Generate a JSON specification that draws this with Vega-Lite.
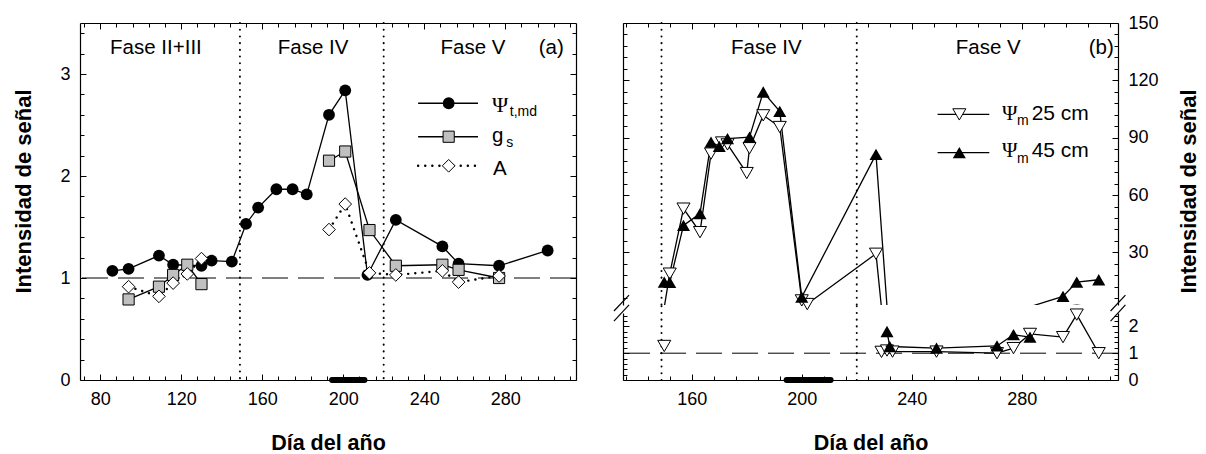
{
  "$schema": "https://vega.github.io/schema/vega-lite/v6.json",
  "padding": {"left": 12, "top": 14, "right": 0, "bottom": 0},
  "background": "white",
  "config": {
    "font": "Liberation Sans",
    "view": {"stroke": null},
    "axis": {
      "domainColor": "#000", "domainWidth": 1.2, "tickColor": "#000", "tickWidth": 1,
      "labelFont": "Liberation Sans", "labelFontSize": 18, "labelColor": "#000",
      "titleFont": "Liberation Sans", "titleFontSize": 22, "titleFontWeight": "bold", "titleColor": "#000",
      "grid": false, "labelOverlap": false, "labelFlush": false, "labelBound": false
    }
  },
  "datasets": {
    "a": [
      {"s": "psi", "doy": 86, "v": 1.07}, {"s": "psi", "doy": 94, "v": 1.09}, {"s": "psi", "doy": 109, "v": 1.22},
      {"s": "psi", "doy": 116, "v": 1.13}, {"s": "psi", "doy": 130, "v": 1.12}, {"s": "psi", "doy": 135, "v": 1.17},
      {"s": "psi", "doy": 145, "v": 1.16}, {"s": "psi", "doy": 152, "v": 1.53}, {"s": "psi", "doy": 158, "v": 1.69},
      {"s": "psi", "doy": 167, "v": 1.87}, {"s": "psi", "doy": 175, "v": 1.87}, {"s": "psi", "doy": 182, "v": 1.82},
      {"s": "psi", "doy": 193, "v": 2.6}, {"s": "psi", "doy": 201, "v": 2.84}, {"s": "psi", "doy": 212, "v": 1.03},
      {"s": "psi", "doy": 226, "v": 1.57}, {"s": "psi", "doy": 249, "v": 1.31}, {"s": "psi", "doy": 257, "v": 1.14},
      {"s": "psi", "doy": 277, "v": 1.12}, {"s": "psi", "doy": 301, "v": 1.27},
      {"s": "gs", "t": 1, "doy": 94, "v": 0.79}, {"s": "gs", "t": 1, "doy": 109, "v": 0.915}, {"s": "gs", "t": 1, "doy": 116, "v": 1.03},
      {"s": "gs", "t": 1, "doy": 123, "v": 1.13}, {"s": "gs", "t": 1, "doy": 130, "v": 0.94},
      {"s": "gs", "t": 2, "doy": 193, "v": 2.15}, {"s": "gs", "t": 2, "doy": 201, "v": 2.24}, {"s": "gs", "t": 2, "doy": 213, "v": 1.47},
      {"s": "gs", "t": 2, "doy": 226, "v": 1.12}, {"s": "gs", "t": 2, "doy": 249, "v": 1.13}, {"s": "gs", "t": 2, "doy": 257, "v": 1.08},
      {"s": "gs", "t": 2, "doy": 277, "v": 1.0},
      {"s": "A", "t": 1, "doy": 94, "v": 0.915}, {"s": "A", "t": 1, "doy": 109, "v": 0.82}, {"s": "A", "t": 1, "doy": 116, "v": 0.95},
      {"s": "A", "t": 1, "doy": 123, "v": 1.04}, {"s": "A", "t": 1, "doy": 130, "v": 1.19},
      {"s": "A", "t": 2, "doy": 193, "v": 1.475}, {"s": "A", "t": 2, "doy": 201, "v": 1.725}, {"s": "A", "t": 2, "doy": 213, "v": 1.05},
      {"s": "A", "t": 2, "doy": 226, "v": 1.03}, {"s": "A", "t": 2, "doy": 249, "v": 1.07}, {"s": "A", "t": 2, "doy": 257, "v": 0.96},
      {"s": "A", "t": 2, "doy": 277, "v": 1.02}
    ],
    "b": [
      {"s": "25", "doy": 150, "v": 1.27}, {"s": "25", "doy": 152, "v": 18.9}, {"s": "25", "doy": 157, "v": 52.9},
      {"s": "25", "doy": 163, "v": 40.6}, {"s": "25", "doy": 167, "v": 81.7}, {"s": "25", "doy": 171, "v": 87.5},
      {"s": "25", "doy": 173, "v": 86.5}, {"s": "25", "doy": 180, "v": 71.5}, {"s": "25", "doy": 181, "v": 84.5},
      {"s": "25", "doy": 186, "v": 101.7}, {"s": "25", "doy": 192, "v": 95.6}, {"s": "25", "doy": 200, "v": 4.9},
      {"s": "25", "doy": 202, "v": 3.0}, {"s": "25", "doy": 227, "v": 29.3}, {"s": "25", "doy": 229, "v": 1.05},
      {"s": "25", "doy": 231, "v": 1.1}, {"s": "25", "doy": 233, "v": 1.06}, {"s": "25", "doy": 249, "v": 1.06},
      {"s": "25", "doy": 271, "v": 1.0}, {"s": "25", "doy": 277, "v": 1.19}, {"s": "25", "doy": 283, "v": 1.72},
      {"s": "25", "doy": 295, "v": 1.6}, {"s": "25", "doy": 300, "v": 2.44}, {"s": "25", "doy": 308, "v": 1.0},
      {"s": "45", "doy": 150, "v": 14.5}, {"s": "45", "doy": 152, "v": 14.3}, {"s": "45", "doy": 157, "v": 44.1},
      {"s": "45", "doy": 163, "v": 50.3}, {"s": "45", "doy": 167, "v": 87.7}, {"s": "45", "doy": 170, "v": 85.5},
      {"s": "45", "doy": 173, "v": 89.5}, {"s": "45", "doy": 181, "v": 90.3}, {"s": "45", "doy": 186, "v": 113.9},
      {"s": "45", "doy": 192, "v": 103.8}, {"s": "45", "doy": 200, "v": 6.6}, {"s": "45", "doy": 227, "v": 81.3},
      {"s": "45", "doy": 231, "v": 1.81}, {"s": "45", "doy": 232, "v": 1.25}, {"s": "45", "doy": 249, "v": 1.19},
      {"s": "45", "doy": 271, "v": 1.27}, {"s": "45", "doy": 277, "v": 1.69}, {"s": "45", "doy": 283, "v": 1.6},
      {"s": "45", "doy": 295, "v": 7.0}, {"s": "45", "doy": 300, "v": 14.5}, {"s": "45", "doy": 308, "v": 15.7}
    ],
    "vl": [{"x": 149}, {"x": 220}],
    "bar": [{"start": 194.5, "end": 210.5, "y": 0}],
    "a_leg": [
      {"s": "psi", "x1": 237, "x2": 266.6, "xm": 252.1, "y": 2.713},
      {"s": "gs", "x1": 237, "x2": 266.6, "xm": 252.1, "y": 2.385},
      {"s": "A", "x1": 237, "x2": 266.6, "xm": 252.1, "y": 2.1}
    ],
    "a_txt": [
      {"x": 107.5, "y": 3.251, "t": "Fase II+III"}, {"x": 185.1, "y": 3.251, "t": "Fase IV"},
      {"x": 264.1, "y": 3.251, "t": "Fase V"}, {"x": 302.8, "y": 3.251, "t": "(a)"}
    ],
    "a_legtxt": [{"x": 273.5, "y": 2.396, "t": "g"}, {"x": 274, "y": 2.073, "t": "A"}],
    "a_psi": [{"x": 273.5, "y": 2.7, "t": "Ψ"}],
    "a_sub": [{"x": 282.3, "y": 2.63, "t": "t,md"}, {"x": 280.6, "y": 2.326, "t": "s"}],
    "b_leg": [
      {"s": "25", "x1": 249.4, "x2": 268.2, "xm": 257.3, "y": 102.2},
      {"s": "45", "x1": 249.4, "x2": 268.2, "xm": 257.3, "y": 82.2}
    ],
    "b_txt": [{"x": 187.1, "y": 136.7, "t": "Fase IV"}, {"x": 267.8, "y": 136.7, "t": "Fase V"}, {"x": 308.9, "y": 136.7, "t": "(b)"}],
    "b_psi": [{"x": 272.8, "y": 102.4, "t": "Ψ"}, {"x": 272.8, "y": 82.8, "t": "Ψ"}],
    "b_sub": [{"x": 278.3, "y": 98.5, "t": "m"}, {"x": 278.3, "y": 78.8, "t": "m"}],
    "b_legtxt": [{"x": 283.6, "y": 102.4, "t": "25 cm"}, {"x": 283.6, "y": 82.8, "t": "45 cm"}],
    "b_break": [
      {"x1": 131.7, "x2": 137.2, "y1": 2.575, "y2": 3.17}, {"x1": 131.7, "x2": 137.2, "y1": 2.2, "y2": 2.8},
      {"x1": 312.3, "x2": 317.7, "y1": 2.575, "y2": 3.17}, {"x1": 312.3, "x2": 317.7, "y1": 2.2, "y2": 2.8}
    ]
  },
  "spacing": 36,
  "hconcat": [
    {
      "width": 496, "height": 357,
      "resolve": {"axis": {"x": "independent", "y": "independent"}},
      "layer": [
        {"data": {"values": [{"y": 1}]},
         "mark": {"type": "rule", "color": "#000", "strokeWidth": 1, "strokeDash": [26, 10]},
         "encoding": {"y": {"field": "y", "type": "quantitative", "scale": {"domain": [0, 3.5], "nice": false, "zero": false},
           "axis": {"orient": "left", "values": [0, 1, 2, 3], "format": "d", "tickSize": -6,
             "labelPadding": 16, "title": "Intensidad de señal", "titlePadding": 24, "titleY": 168}}}},
        {"data": {"name": "vl"},
         "mark": {"type": "rule", "color": "#000", "strokeWidth": 2, "strokeDash": [0.1, 6.6], "strokeCap": "round"},
         "encoding": {"x": {"field": "x", "type": "quantitative", "scale": {"domain": [70, 315], "nice": false, "zero": false},
           "axis": {"orient": "bottom", "values": [72, 80, 88, 96, 104, 112, 120, 128, 136, 144, 152, 160, 168, 176, 184, 192, 200, 208, 216, 224, 232, 240, 248, 256, 264, 272, 280, 288, 296, 304, 312], "format": "d",
             "tickSize": {"condition": {"test": "datum.value % 40 === 0", "value": -6}, "value": -4},
             "labelExpr": "datum.value % 40 === 0 ? datum.label : ''", "labelOverlap": false,
             "labelPadding": 16, "title": "Día del año", "titleFontSize": 21.5, "titlePadding": 22}}}},
        {"data": {"name": "bar"},
         "mark": {"type": "rule", "color": "#000", "strokeWidth": 6, "strokeCap": "round"},
         "encoding": {
           "x": {"field": "start", "type": "quantitative", "scale": {"domain": [70, 315], "nice": false, "zero": false},
             "axis": {"orient": "top", "values": [72, 80, 88, 96, 104, 112, 120, 128, 136, 144, 152, 160, 168, 176, 184, 192, 200, 208, 216, 224, 232, 240, 248, 256, 264, 272, 280, 288, 296, 304, 312],
               "tickSize": {"condition": {"test": "datum.value % 40 === 0", "value": -6}, "value": -4}, "labels": false, "title": null}},
           "x2": {"field": "end"},
           "y": {"field": "y", "type": "quantitative", "scale": {"domain": [0, 3.5], "nice": false, "zero": false},
             "axis": {"orient": "right", "values": [0, 1, 2, 3], "tickSize": -6, "labels": false, "title": null}}}},
        {"data": {"name": "a"}, "transform": [{"filter": "datum.s === 'psi'"}],
         "mark": {"type": "line", "color": "#000", "strokeWidth": 1.3},
         "encoding": {"x": {"field": "doy", "type": "quantitative", "axis": null},
           "y": {"field": "v", "type": "quantitative", "axis": {"orient": "left", "values": [0.2, 0.4, 0.6, 0.8, 1.2, 1.4, 1.6, 1.8, 2.2, 2.4, 2.6, 2.8, 3.2, 3.4], "tickSize": -4, "labels": false, "domain": false, "title": null}}}},
        {"data": {"name": "a"}, "transform": [{"filter": "datum.s === 'gs'"}],
         "mark": {"type": "line", "color": "#000", "strokeWidth": 1.3},
         "encoding": {"x": {"field": "doy", "type": "quantitative", "axis": null},
           "y": {"field": "v", "type": "quantitative", "axis": {"orient": "right", "values": [0.2, 0.4, 0.6, 0.8, 1.2, 1.4, 1.6, 1.8, 2.2, 2.4, 2.6, 2.8, 3.2, 3.4], "tickSize": -4, "labels": false, "domain": false, "title": null}}, "detail": {"field": "t"}}},
        {"data": {"name": "a"}, "transform": [{"filter": "datum.s === 'A'"}],
         "mark": {"type": "line", "color": "#000", "strokeWidth": 2.4, "strokeDash": [0.1, 7], "strokeCap": "round"},
         "encoding": {"x": {"field": "doy", "type": "quantitative", "axis": null}, "y": {"field": "v", "type": "quantitative", "axis": null}, "detail": {"field": "t"}}},
        {"data": {"name": "a"}, "transform": [{"filter": "datum.s === 'psi'"}],
         "mark": {"type": "point", "shape": "circle", "filled": true, "color": "#000", "opacity": 1, "size": 140},
         "encoding": {"x": {"field": "doy", "type": "quantitative", "axis": null}, "y": {"field": "v", "type": "quantitative", "axis": null}}},
        {"data": {"name": "a"}, "transform": [{"filter": "datum.s === 'gs'"}],
         "mark": {"type": "point", "shape": "square", "filled": true, "fill": "#c0c0c0", "stroke": "#000", "strokeWidth": 1, "opacity": 1, "size": 125},
         "encoding": {"x": {"field": "doy", "type": "quantitative", "axis": null}, "y": {"field": "v", "type": "quantitative", "axis": null}}},
        {"data": {"name": "a"}, "transform": [{"filter": "datum.s === 'A'"}],
         "mark": {"type": "point", "shape": "diamond", "filled": true, "fill": "#fff", "stroke": "#000", "strokeWidth": 1, "opacity": 1, "size": 160},
         "encoding": {"x": {"field": "doy", "type": "quantitative", "axis": null}, "y": {"field": "v", "type": "quantitative", "axis": null}}},
        {"data": {"name": "a_leg"}, "transform": [{"filter": "datum.s !== 'A'"}],
         "mark": {"type": "rule", "color": "#000", "strokeWidth": 1.3},
         "encoding": {"x": {"field": "x1", "type": "quantitative", "axis": null}, "x2": {"field": "x2"}, "y": {"field": "y", "type": "quantitative", "axis": null}}},
        {"data": {"name": "a_leg"}, "transform": [{"filter": "datum.s === 'A'"}],
         "mark": {"type": "rule", "color": "#000", "strokeWidth": 2.4, "strokeDash": [0.1, 7], "strokeCap": "round"},
         "encoding": {"x": {"field": "x1", "type": "quantitative", "axis": null}, "x2": {"field": "x2"}, "y": {"field": "y", "type": "quantitative", "axis": null}}},
        {"data": {"name": "a_leg"}, "transform": [{"filter": "datum.s === 'psi'"}],
         "mark": {"type": "point", "shape": "circle", "filled": true, "color": "#000", "opacity": 1, "size": 140},
         "encoding": {"x": {"field": "xm", "type": "quantitative", "axis": null}, "y": {"field": "y", "type": "quantitative", "axis": null}}},
        {"data": {"name": "a_leg"}, "transform": [{"filter": "datum.s === 'gs'"}],
         "mark": {"type": "point", "shape": "square", "filled": true, "fill": "#c0c0c0", "stroke": "#000", "strokeWidth": 1, "opacity": 1, "size": 125},
         "encoding": {"x": {"field": "xm", "type": "quantitative", "axis": null}, "y": {"field": "y", "type": "quantitative", "axis": null}}},
        {"data": {"name": "a_leg"}, "transform": [{"filter": "datum.s === 'A'"}],
         "mark": {"type": "point", "shape": "diamond", "filled": true, "fill": "#fff", "stroke": "#000", "strokeWidth": 1, "opacity": 1, "size": 160},
         "encoding": {"x": {"field": "xm", "type": "quantitative", "axis": null}, "y": {"field": "y", "type": "quantitative", "axis": null}}},
        {"data": {"name": "a_txt"},
         "mark": {"type": "text", "font": "Liberation Sans", "fontSize": 20.5, "color": "#000", "align": "center", "baseline": "middle"},
         "encoding": {"x": {"field": "x", "type": "quantitative", "axis": null}, "y": {"field": "y", "type": "quantitative", "axis": null}, "text": {"field": "t"}}},
        {"data": {"name": "a_legtxt"},
         "mark": {"type": "text", "font": "Liberation Sans", "fontSize": 20.5, "color": "#000", "align": "left", "baseline": "middle"},
         "encoding": {"x": {"field": "x", "type": "quantitative", "axis": null}, "y": {"field": "y", "type": "quantitative", "axis": null}, "text": {"field": "t"}}},
        {"data": {"name": "a_psi"},
         "mark": {"type": "text", "font": "Liberation Serif", "fontSize": 22, "color": "#000", "align": "left", "baseline": "middle"},
         "encoding": {"x": {"field": "x", "type": "quantitative", "axis": null}, "y": {"field": "y", "type": "quantitative", "axis": null}, "text": {"field": "t"}}},
        {"data": {"name": "a_sub"},
         "mark": {"type": "text", "font": "Liberation Sans", "fontSize": 14, "color": "#000", "align": "left", "baseline": "middle"},
         "encoding": {"x": {"field": "x", "type": "quantitative", "axis": null}, "y": {"field": "y", "type": "quantitative", "axis": null}, "text": {"field": "t"}}}
      ]
    },
    {
      "bounds": "flush",
      "spacing": 8,
      "vconcat": [
        {
          "width": 495, "height": 282,
          "resolve": {"axis": {"x": "independent", "y": "independent"}},
          "layer": [
            {"data": {"name": "vl"},
             "mark": {"type": "rule", "color": "#000", "strokeWidth": 2, "strokeDash": [0.1, 6.6], "strokeCap": "round"},
             "encoding": {"x": {"field": "x", "type": "quantitative", "scale": {"domain": [135, 315], "nice": false, "zero": false},
               "axis": {"orient": "top", "values": [136, 144, 152, 160, 168, 176, 184, 192, 200, 208, 216, 224, 232, 240, 248, 256, 264, 272, 280, 288, 296, 304, 312],
                 "tickSize": {"condition": {"test": "datum.value % 40 === 0", "value": -6}, "value": -4}, "labels": false, "title": null}}}},
            {"data": {"name": "b"}, "transform": [{"filter": "datum.s === '25'"}],
             "mark": {"type": "line", "color": "#000", "strokeWidth": 1.3, "clip": true},
             "encoding": {"x": {"field": "doy", "type": "quantitative", "axis": null},
               "y": {"field": "v", "type": "quantitative", "scale": {"domain": [2.5, 150], "nice": false, "zero": false},
                 "axis": {"orient": "left", "values": [6, 12, 18, 24, 30, 36, 42, 48, 54, 60, 66, 72, 78, 84, 90, 96, 102, 108, 114, 120, 126, 132, 138, 144, 150],
                   "tickSize": {"condition": {"test": "datum.value % 30 === 0", "value": -6}, "value": -4}, "labels": false, "title": null}}}},
            {"data": {"name": "b"}, "transform": [{"filter": "datum.s === '45'"}],
             "mark": {"type": "line", "color": "#000", "strokeWidth": 1.3, "clip": true},
             "encoding": {"x": {"field": "doy", "type": "quantitative", "axis": null},
               "y": {"field": "v", "type": "quantitative",
                 "axis": {"orient": "right", "values": [6, 12, 18, 24, 30, 36, 42, 48, 54, 60, 66, 72, 78, 84, 90, 96, 102, 108, 114, 120, 126, 132, 138, 144, 150], "format": "d",
                   "tickSize": {"condition": {"test": "datum.value % 30 === 0", "value": -6}, "value": -4},
                   "labelExpr": "datum.value % 30 === 0 ? datum.label : ''", "labelOverlap": false,
                   "labelPadding": 16, "title": "Intensidad de señal", "titleAngle": 270, "titleBaseline": "top", "titlePadding": 20, "titleY": 168}}}},
            {"data": {"name": "b"}, "transform": [{"filter": "datum.s === '25' && datum.v >= 2.5"}],
             "mark": {"type": "point", "shape": "triangle-down", "filled": true, "fill": "#fff", "stroke": "#000", "strokeWidth": 1, "opacity": 1, "size": 170},
             "encoding": {"x": {"field": "doy", "type": "quantitative", "axis": null}, "y": {"field": "v", "type": "quantitative", "axis": null}}},
            {"data": {"name": "b"}, "transform": [{"filter": "datum.s === '45' && datum.v >= 2.5"}],
             "mark": {"type": "point", "shape": "triangle-up", "filled": true, "color": "#000", "opacity": 1, "size": 170},
             "encoding": {"x": {"field": "doy", "type": "quantitative", "axis": null}, "y": {"field": "v", "type": "quantitative", "axis": null}}},
            {"data": {"name": "b_leg"},
             "mark": {"type": "rule", "color": "#000", "strokeWidth": 1.3},
             "encoding": {"x": {"field": "x1", "type": "quantitative", "axis": null}, "x2": {"field": "x2"}, "y": {"field": "y", "type": "quantitative", "axis": null}}},
            {"data": {"name": "b_leg"}, "transform": [{"filter": "datum.s === '25'"}],
             "mark": {"type": "point", "shape": "triangle-down", "filled": true, "fill": "#fff", "stroke": "#000", "strokeWidth": 1, "opacity": 1, "size": 170},
             "encoding": {"x": {"field": "xm", "type": "quantitative", "axis": null}, "y": {"field": "y", "type": "quantitative", "axis": null}}},
            {"data": {"name": "b_leg"}, "transform": [{"filter": "datum.s === '45'"}],
             "mark": {"type": "point", "shape": "triangle-up", "filled": true, "color": "#000", "opacity": 1, "size": 170},
             "encoding": {"x": {"field": "xm", "type": "quantitative", "axis": null}, "y": {"field": "y", "type": "quantitative", "axis": null}}},
            {"data": {"name": "b_txt"},
             "mark": {"type": "text", "font": "Liberation Sans", "fontSize": 20.5, "color": "#000", "align": "center", "baseline": "middle"},
             "encoding": {"x": {"field": "x", "type": "quantitative", "axis": null}, "y": {"field": "y", "type": "quantitative", "axis": null}, "text": {"field": "t"}}},
            {"data": {"name": "b_psi"},
             "mark": {"type": "text", "font": "Liberation Serif", "fontSize": 21, "color": "#000", "align": "left", "baseline": "middle"},
             "encoding": {"x": {"field": "x", "type": "quantitative", "axis": null}, "y": {"field": "y", "type": "quantitative", "axis": null}, "text": {"field": "t"}}},
            {"data": {"name": "b_sub"},
             "mark": {"type": "text", "font": "Liberation Sans", "fontSize": 14, "color": "#000", "align": "left", "baseline": "middle"},
             "encoding": {"x": {"field": "x", "type": "quantitative", "axis": null}, "y": {"field": "y", "type": "quantitative", "axis": null}, "text": {"field": "t"}}},
            {"data": {"name": "b_legtxt"},
             "mark": {"type": "text", "font": "Liberation Sans", "fontSize": 21, "color": "#000", "align": "left", "baseline": "middle"},
             "encoding": {"x": {"field": "x", "type": "quantitative", "axis": null}, "y": {"field": "y", "type": "quantitative", "axis": null}, "text": {"field": "t"}}}
          ]
        },
        {
          "width": 495, "height": 67,
          "resolve": {"axis": {"x": "independent", "y": "independent"}},
          "layer": [
            {"data": {"values": [{"y": 1}]},
             "mark": {"type": "rule", "color": "#000", "strokeWidth": 1, "strokeDash": [26, 10]},
             "encoding": {"y": {"field": "y", "type": "quantitative", "scale": {"domain": [0, 2.5], "nice": false, "zero": false},
               "axis": {"orient": "left", "values": [0, 1, 2], "tickSize": -6, "labels": false, "title": null}}}},
            {"data": {"name": "vl"},
             "mark": {"type": "rule", "color": "#000", "strokeWidth": 2, "strokeDash": [0.1, 6.6], "strokeCap": "round"},
             "encoding": {"x": {"field": "x", "type": "quantitative", "scale": {"domain": [135, 315], "nice": false, "zero": false},
               "axis": {"orient": "bottom", "values": [136, 144, 152, 160, 168, 176, 184, 192, 200, 208, 216, 224, 232, 240, 248, 256, 264, 272, 280, 288, 296, 304, 312], "format": "d",
                 "tickSize": {"condition": {"test": "datum.value % 40 === 0", "value": -6}, "value": -4},
                 "labelExpr": "datum.value % 40 === 0 ? datum.label : ''", "labelOverlap": false,
                 "labelPadding": 16, "title": "Día del año", "titleFontSize": 21.5, "titlePadding": 22}},
               "y": {"datum": 0, "type": "quantitative", "axis": null}, "y2": {"datum": 2.85}}},
            {"data": {"name": "bar"},
             "mark": {"type": "rule", "color": "#000", "strokeWidth": 6, "strokeCap": "round"},
             "encoding": {"x": {"field": "start", "type": "quantitative", "axis": null}, "x2": {"field": "end"},
               "y": {"field": "y", "type": "quantitative",
                 "axis": {"orient": "right", "values": [0, 1, 2], "format": "d", "tickSize": -6,
                   "labelPadding": 16, "title": null}}}},
            {"data": {"name": "b"}, "transform": [{"filter": "datum.s === '25' && datum.v < 2.5 && datum.doy > 210"}],
             "mark": {"type": "line", "color": "#000", "strokeWidth": 1.3},
             "encoding": {"x": {"field": "doy", "type": "quantitative", "axis": null},
               "y": {"field": "v", "type": "quantitative", "axis": {"orient": "left", "values": [0.2, 0.4, 0.6, 0.8, 1.2, 1.4, 1.6, 1.8, 2.2, 2.4], "tickSize": -4, "labels": false, "domain": false, "title": null}}}},
            {"data": {"name": "b"}, "transform": [{"filter": "datum.s === '45' && datum.v < 2.5 && datum.doy > 210"}],
             "mark": {"type": "line", "color": "#000", "strokeWidth": 1.3},
             "encoding": {"x": {"field": "doy", "type": "quantitative", "axis": null},
               "y": {"field": "v", "type": "quantitative", "axis": {"orient": "right", "values": [0.2, 0.4, 0.6, 0.8, 1.2, 1.4, 1.6, 1.8, 2.2, 2.4], "tickSize": -4, "labels": false, "domain": false, "title": null}}}},
            {"data": {"name": "b"}, "transform": [{"filter": "datum.s === '25' && datum.v < 2.5"}],
             "mark": {"type": "point", "shape": "triangle-down", "filled": true, "fill": "#fff", "stroke": "#000", "strokeWidth": 1, "opacity": 1, "size": 170},
             "encoding": {"x": {"field": "doy", "type": "quantitative", "axis": null}, "y": {"field": "v", "type": "quantitative", "axis": null}}},
            {"data": {"name": "b"}, "transform": [{"filter": "datum.s === '45' && datum.v < 2.5"}],
             "mark": {"type": "point", "shape": "triangle-up", "filled": true, "color": "#000", "opacity": 1, "size": 170},
             "encoding": {"x": {"field": "doy", "type": "quantitative", "axis": null}, "y": {"field": "v", "type": "quantitative", "axis": null}}},
            {"data": {"name": "b_break"},
             "mark": {"type": "rule", "color": "#000", "strokeWidth": 1.2},
             "encoding": {"x": {"field": "x1", "type": "quantitative", "axis": null}, "x2": {"field": "x2"},
               "y": {"field": "y1", "type": "quantitative", "axis": null}, "y2": {"field": "y2"}}}
          ]
        }
      ]
    }
  ]
}
